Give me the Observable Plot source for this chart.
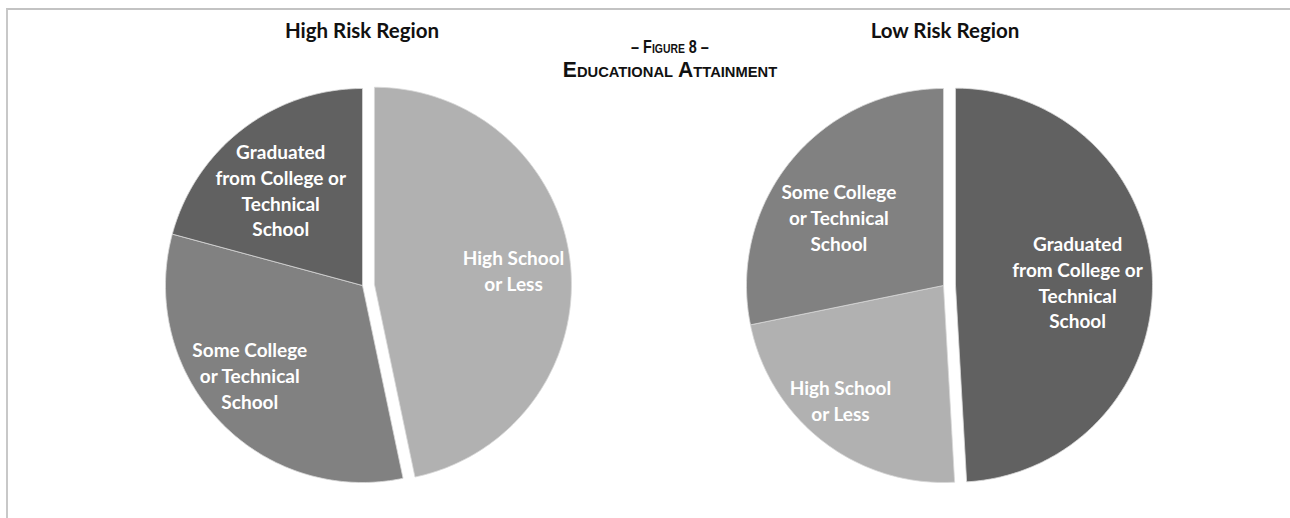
<!DOCTYPE html>
<html><head><meta charset="utf-8">
<script src="https://cdn.jsdelivr.net/npm/d3@7"></script>
<script src="https://cdn.jsdelivr.net/npm/@observablehq/plot@0.6"></script>
<style>
body{margin:0;background:#fff;}
#wrap{position:relative;width:1290px;height:518px;overflow:hidden;background:#fff;}
#frame{position:absolute;left:6px;top:8px;width:1300px;height:520px;border-top:2px solid #c3c3c3;border-left:2px solid #c8c8c8;}
.ptitle{position:absolute;top:18px;width:300px;text-align:center;font:bold 20.5px Lato,'Open Sans',sans-serif;color:#111;}
#fig{position:absolute;left:470px;width:400px;top:36px;text-align:center;font-family:'Liberation Sans',Arial,sans-serif;font-weight:bold;font-variant:small-caps;color:#111;}
#fig .l1{font-size:18px;line-height:22px;transform:scaleX(0.8);transform-origin:200px 0;}
#fig .l2{font-size:21.5px;line-height:25px;transform:scaleX(0.98);transform-origin:200px 0;}
.pie{position:absolute;top:75px;}
</style>
</head><body>
<div id="wrap">
  <div id="frame"></div>
  <div class="ptitle" id="t1" style="left:212px">High Risk Region</div>
  <div class="ptitle" id="t2" style="left:795px">Low Risk Region</div>
  <div id="fig"><div class="l1">– Figure 8 –</div><div class="l2">Educational Attainment</div></div>
  <div class="pie" id="pie1" style="left:142px"></div>
  <div class="pie" id="pie2" style="left:723px"></div>
</div>
<script>
// ---- data ----
const categories = ["High School or Less", "Some College or Technical School", "Graduated from College or Technical School"];
const categoryLabels = ["High School\nor Less", "Some College\nor Technical\nSchool", "Graduated\nfrom College or\nTechnical\nSchool"];
const highRiskOrder = ["High School or Less", "Some College or Technical School", "Graduated from College or Technical School"];
const highRiskValues = [46.7, 32.5, 20.8];
const lowRiskOrder = ["Graduated from College or Technical School", "High School or Less", "Some College or Technical School"];
const lowRiskValues = [49.1, 22.7, 28.2];

// ---- styles / layout ----
const sliceColors = ["#b1b1b1", "#818181", "#616161"];
const explodeUnits = 12 / 197;
const highLabelRadius = [0.71, 0.73, 0.64];
const highLabelNudgeDeg = [0, 5, -3];
const lowLabelRadius = [0.62, 0.78, 0.635];
const lowLabelNudgeDeg = [0, 4.5, -6];

function pie(order, values, labelRadius, nudge) {
  const total = d3.sum(values);
  let start = 0;
  const verts = [], labels = [];
  order.forEach((cat, i) => {
    const span = values[i] / total * 2 * Math.PI;
    const end = start + span;
    const mid = (start + end) / 2;
    const off = i === 0 ? explodeUnits : 0;
    const ox = off * Math.sin(mid), oy = off * Math.cos(mid);
    verts.push({cat, x: ox, y: oy});
    const n = Math.max(2, Math.ceil(span / (Math.PI / 180)));
    for (let k = 0; k <= n; k++) {
      const a = start + span * k / n;
      verts.push({cat, x: ox + Math.sin(a), y: oy + Math.cos(a)});
    }
    verts.push({cat, x: ox, y: oy});
    const r = labelRadius[i];
    const la = mid + nudge[i] * Math.PI / 180;
    labels.push({cat, x: ox + r * Math.sin(la), y: oy + r * Math.cos(la),
      text: categoryLabels[categories.indexOf(cat)]});
    start = end;
  });
  return Plot.plot({
    width: 440, height: 420,
    x: {domain: [-1, 1], range: [23, 417], axis: null},
    y: {domain: [-1, 1], range: [407, 13], axis: null},
    color: {domain: categories, range: sliceColors},
    style: {background: "transparent"},
    marks: [
      Plot.line(verts, {x: "x", y: "y", z: "cat", fill: "cat", stroke: "#d8d8d8", strokeWidth: 0.8, curve: "linear"}),
      Plot.text(labels, {x: "x", y: "y", text: "text", fill: "white", fontWeight: "bold",
        fontSize: 19, lineHeight: 1.35, fontFamily: "Lato, 'Open Sans', sans-serif"})
    ]
  });
}
document.getElementById("pie1").append(pie(highRiskOrder, highRiskValues, highLabelRadius, highLabelNudgeDeg));
document.getElementById("pie2").append(pie(lowRiskOrder, lowRiskValues, lowLabelRadius, lowLabelNudgeDeg));
</script>
</body></html>
